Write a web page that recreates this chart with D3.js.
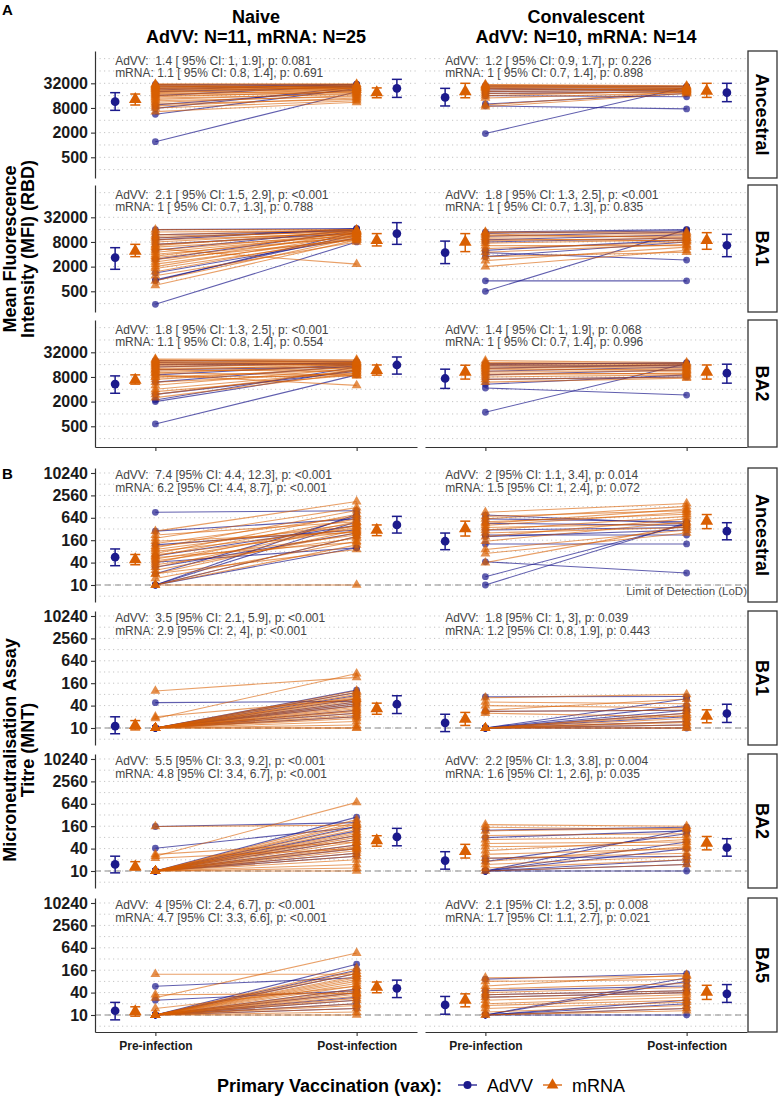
<!DOCTYPE html>
<html>
<head>
<meta charset="utf-8">
<script src="https://cdn.jsdelivr.net/npm/d3@7"></script>
<style>
  body { margin: 0; background: #fff; }
  svg { font-family: "Liberation Sans", Arial, sans-serif; }
</style>
</head>
<body>
<div id="chart"></div>
<script>
// ---- data ----
var cohorts = ["Naive", "Convalescent"];
var cohortN = ["AdVV: N=11, mRNA: N=25", "AdVV: N=10, mRNA: N=14"];
var mfiVariants = ["Ancestral", "BA1", "BA2"];
var mntVariants = ["Ancestral", "BA1", "BA2", "BA5"];
var timepoints = ["Pre-infection", "Post-infection"];
var vaxGroups = ["AdVV", "mRNA"];
var mfiTicks = [500, 2000, 8000, 32000];
var mntTicks = [10, 40, 160, 640, 2560, 10240];
var lodValue = 10;

// individual participants: [pre, post]
var mfiNaiveAncestralAdVV = [[1200,20000],[5600,24000],[7800,26000],[9500,22000],[16000,28000],[20000,26000],[22000,30000],[24000,28000],[26000,30000],[28000,27000],[30000,30000]];
var mfiNaiveAncestralMrna = [[6500,11000],[8000,12000],[9000,14000],[10000,13000],[11000,16000],[12000,15000],[13000,18000],[14000,17000],[15000,20000],[16000,19000],[17000,22000],[18000,20000],[19000,24000],[20000,22000],[21000,25000],[22000,24000],[23000,26000],[24000,25000],[25000,28000],[26000,27000],[27000,28000],[28000,22000],[29000,30000],[30000,24000],[31000,31000]];
var mfiNaiveBA1AdVV = [[240,8000],[900,14000],[950,12000],[1400,10000],[3000,15000],[5000,16000],[7000,13000],[9000,17000],[10000,16000],[12000,15000],[16000,17000]];
var mfiNaiveBA1Mrna = [[700,9000],[900,10000],[1200,8000],[1500,11000],[1800,9500],[2000,12000],[2300,10000],[2600,13000],[3000,9000],[3300,11000],[3600,14000],[4000,10500],[4500,12000],[5000,13000],[5500,2300],[6000,11000],[6500,15000],[7000,12500],[8000,14000],[9000,13000],[10000,15000],[11000,14000],[12000,16000],[14000,15000],[16000,16000]];
var mfiNaiveBA2AdVV = [[570,9000],[2000,12000],[2200,14000],[3000,11000],[6000,15000],[9000,16000],[12000,14000],[14000,18000],[16000,17000],[18000,16000],[20000,19000]];
var mfiNaiveBA2Mrna = [[2500,10000],[3000,12000],[3500,9000],[4000,11000],[5000,13000],[6000,10000],[7000,14000],[8000,12000],[9000,5000],[10000,15000],[11000,13000],[12000,16000],[13000,14000],[14000,17000],[15000,15000],[16000,18000],[17000,16000],[18000,19000],[19000,17000],[20000,20000],[21000,18000],[22000,21000],[12000,11000],[10000,9000],[8000,8500]];
var mfiConvAncestralAdVV = [[1900,26000],[9000,7600],[10000,18000],[16000,15000],[18000,20000],[20000,22000],[22000,24000],[24000,22000],[26000,26000],[28000,27000]];
var mfiConvAncestralMrna = [[8600,18000],[9500,20000],[14000,19000],[16000,21000],[18000,20000],[20000,22000],[22000,23000],[24000,22000],[25000,24000],[26000,25000],[27000,24000],[28000,26000],[29000,27000],[30000,28000]];
var mfiConvBA1AdVV = [[500,16000],[900,900],[3500,8000],[4400,2900],[5000,9000],[8000,10000],[9000,12000],[11000,14000],[13000,15000],[14000,16000]];
var mfiConvBA1Mrna = [[2000,5000],[2800,6000],[3500,4500],[4500,7000],[5500,8000],[6500,6500],[7500,9000],[8500,10000],[9500,8500],[10500,11000],[11500,12000],[12500,10000],[13500,13000],[14000,14000]];
var mfiConvBA2AdVV = [[1100,17000],[4300,2900],[5300,9000],[7000,8000],[9000,12000],[11000,14000],[13000,16000],[15000,15000],[16000,18000],[17000,17000]];
var mfiConvBA2Mrna = [[6000,7500],[7000,8000],[8000,9000],[9000,10000],[10000,9500],[11000,11000],[12000,12000],[13000,11500],[14000,13000],[15000,14000],[16000,15000],[17000,16000],[18000,17000],[20000,18000]];

var mntNaiveAncestralAdVV = [[900,990],[280,600],[120,300],[60,400],[41,100],[30,250],[20,700],[10,800],[10,500],[10,200],[10,100]];
var mntNaiveAncestralMrna = [[10,10],[10,120],[10,200],[15,150],[20,300],[20,90],[25,250],[30,400],[35,180],[40,500],[45,220],[50,350],[55,140],[60,600],[65,280],[70,800],[80,320],[90,450],[100,1000],[110,380],[130,700],[150,260],[180,1200],[220,500],[280,1750]];
var mntNaiveBA1AdVV = [[48,52],[10,104],[10,90],[10,75],[10,60],[10,50],[10,40],[10,30],[10,25],[10,20],[10,45]];
var mntNaiveBA1Mrna = [[99,230],[18,290],[20,60],[10,10],[10,12],[10,15],[10,18],[10,20],[10,22],[10,25],[10,28],[10,30],[10,33],[10,36],[10,40],[10,45],[10,50],[10,55],[10,60],[10,65],[10,70],[10,80],[10,90],[10,100],[10,10]];
var mntNaiveBA2AdVV = [[157,200],[41,150],[10,280],[10,160],[10,120],[10,90],[10,70],[10,50],[10,40],[10,30],[10,25]];
var mntNaiveBA2Mrna = [[157,170],[25,700],[28,60],[22,40],[10,10],[10,12],[10,15],[10,20],[10,25],[10,30],[10,35],[10,40],[10,45],[10,50],[10,60],[10,70],[10,80],[10,90],[10,100],[10,110],[10,130],[10,150],[10,180],[10,200],[10,240]];
var mntNaiveBA5AdVV = [[59,100],[25,45],[10,232],[10,160],[10,130],[10,50],[10,40],[10,30],[10,25],[10,20],[10,15]];
var mntNaiveBA5Mrna = [[125,125],[35,38],[29,462],[15,60],[10,10],[10,12],[10,15],[10,18],[10,20],[10,25],[10,28],[10,32],[10,36],[10,40],[10,45],[10,50],[10,60],[10,70],[10,80],[10,90],[10,100],[10,110],[10,130],[10,150],[10,180]];
var mntConvAncestralAdVV = [[760,450],[600,500],[454,400],[300,350],[220,220],[127,127],[42,21],[16.7,430],[10,470],[200,300]];
var mntConvAncestralMrna = [[40,400],[70,250],[90,300],[150,500],[200,600],[250,350],[300,700],[350,450],[400,900],[450,1100],[500,800],[600,1300],[700,1000],[900,1550]];
var mntConvBA1AdVV = [[69,70],[28,30],[10,61],[10,40],[10,30],[10,20],[10,15],[10,12],[10,10],[10,25]];
var mntConvBA1Mrna = [[65,80],[50,45],[40,35],[30,60],[28,30],[25,20],[10,10],[10,12],[10,15],[10,18],[10,22],[10,25],[10,14],[10,10]];
var mntConvBA2AdVV = [[125,150],[79,120],[22,25],[18,100],[10,130],[10,60],[10,40],[10,20],[10,10],[10,15]];
var mntConvBA2Mrna = [[176,160],[150,130],[120,140],[90,100],[70,80],[55,60],[45,50],[35,70],[28,40],[22,30],[18,45],[15,25],[12,20],[10,15]];
var mntConvBA5AdVV = [[92,130],[45,60],[35,45],[30,40],[10,100],[10,80],[10,25],[10,20],[10,10],[10,15]];
var mntConvBA5Mrna = [[100,110],[80,90],[60,120],[50,70],[40,55],[35,45],[30,40],[25,35],[20,30],[18,25],[15,22],[12,18],[10,15],[10,13]];

// geometric means with 95% CI, per variant: [AdVV pre, mRNA pre, mRNA post, AdVV post], each [gm, lo, hi]
var mfiNaiveSummary = [
  [[11400,7000,18900],[13000,9450,17500],[18900,14200,24700],[24100,14500,40000]],
  [[3320,1720,5800],[4800,3500,7000],[8770,6400,12800],[12800,7000,23700]],
  [[5350,3200,8500],[6700,5350,9000],[11700,8880,15700],[15700,9400,24600]]
];
var mfiConvSummary = [
  [[14500,8950,24100],[20000,14200,32000],[20800,14500,32000],[18900,11400,32000]],
  [[4400,2370,8400],[8000,4650,12800],[8800,5300,13500],[6640,3500,12300]],
  [[7350,4200,12400],[10600,7100,15500],[10600,7100,15700],[9900,5650,16400]]
];
var mntNaiveSummary = [
  [[56,33,93],[48,35,66],[299,212,411],[411,249,700]],
  [[11.2,7,20],[11.7,8.9,15.8],[33,23.4,46.5],[43.5,24.5,73.6]],
  [[15,8.9,25],[13,10.7,17.8],[66,46.5,88.6],[82.6,47.6,140]],
  [[13,7.4,21.8],[12.3,9.3,16.6],[56,39.6,77],[52,29.4,86.5]]
];
var mntConvSummary = [
  [[150,89,249],[327,207,520],[520,327,783],[279,164,472]],
  [[13.8,8,23.4],[17.3,11.7,26.2],[20.8,13.8,30.8],[24.5,14.1,43.5]],
  [[19,11.2,33],[33.7,22.3,52],[56,37,84.6],[42.5,25,73.6]],
  [[18.6,10.5,31.5],[25,16.6,37],[41.5,26.2,62.8],[37,21.8,65.7]]
];

var mfiNaiveStats = [
  ["AdVV:  1.4 [ 95% CI: 1, 1.9], p: 0.081", "mRNA: 1.1 [ 95% CI: 0.8, 1.4], p: 0.691"],
  ["AdVV:  2.1 [ 95% CI: 1.5, 2.9], p: <0.001", "mRNA: 1 [ 95% CI: 0.7, 1.3], p: 0.788"],
  ["AdVV:  1.8 [ 95% CI: 1.3, 2.5], p: <0.001", "mRNA: 1.1 [ 95% CI: 0.8, 1.4], p: 0.554"]
];
var mfiConvStats = [
  ["AdVV:  1.2 [ 95% CI: 0.9, 1.7], p: 0.226", "mRNA: 1 [ 95% CI: 0.7, 1.4], p: 0.898"],
  ["AdVV:  1.8 [ 95% CI: 1.3, 2.5], p: <0.001", "mRNA: 1 [ 95% CI: 0.7, 1.3], p: 0.835"],
  ["AdVV:  1.4 [ 95% CI: 1, 1.9], p: 0.068", "mRNA: 1 [ 95% CI: 0.7, 1.4], p: 0.996"]
];
var mntNaiveStats = [
  ["AdVV:  7.4 [95% CI: 4.4, 12.3], p: <0.001", "mRNA: 6.2 [95% CI: 4.4, 8.7], p: <0.001"],
  ["AdVV:  3.5 [95% CI: 2.1, 5.9], p: <0.001", "mRNA: 2.9 [95% CI: 2, 4], p: <0.001"],
  ["AdVV:  5.5 [95% CI: 3.3, 9.2], p: <0.001", "mRNA: 4.8 [95% CI: 3.4, 6.7], p: <0.001"],
  ["AdVV:  4 [95% CI: 2.4, 6.7], p: <0.001", "mRNA: 4.7 [95% CI: 3.3, 6.6], p: <0.001"]
];
var mntConvStats = [
  ["AdVV:  2 [95% CI: 1.1, 3.4], p: 0.014", "mRNA: 1.5 [95% CI: 1, 2.4], p: 0.072"],
  ["AdVV:  1.8 [95% CI: 1, 3], p: 0.039", "mRNA: 1.2 [95% CI: 0.8, 1.9], p: 0.443"],
  ["AdVV:  2.2 [95% CI: 1.3, 3.8], p: 0.004", "mRNA: 1.6 [95% CI: 1, 2.6], p: 0.035"],
  ["AdVV:  2.1 [95% CI: 1.2, 3.5], p: 0.008", "mRNA: 1.7 [95% CI: 1.1, 2.7], p: 0.021"]
];

// ---- tables built from the arrays above ----
var mfiPairs = [
  [[mfiNaiveAncestralAdVV, mfiNaiveAncestralMrna], [mfiNaiveBA1AdVV, mfiNaiveBA1Mrna], [mfiNaiveBA2AdVV, mfiNaiveBA2Mrna]],
  [[mfiConvAncestralAdVV, mfiConvAncestralMrna], [mfiConvBA1AdVV, mfiConvBA1Mrna], [mfiConvBA2AdVV, mfiConvBA2Mrna]]
];
var mntPairs = [
  [[mntNaiveAncestralAdVV, mntNaiveAncestralMrna], [mntNaiveBA1AdVV, mntNaiveBA1Mrna], [mntNaiveBA2AdVV, mntNaiveBA2Mrna], [mntNaiveBA5AdVV, mntNaiveBA5Mrna]],
  [[mntConvAncestralAdVV, mntConvAncestralMrna], [mntConvBA1AdVV, mntConvBA1Mrna], [mntConvBA2AdVV, mntConvBA2Mrna], [mntConvBA5AdVV, mntConvBA5Mrna]]
];
var mfiSummary = [mfiNaiveSummary, mfiConvSummary];
var mntSummary = [mntNaiveSummary, mntConvSummary];
var mfiStats = [mfiNaiveStats, mfiConvStats];
var mntStats = [mntNaiveStats, mntConvStats];

function init()
{
    var w = 778, h = 1096;
    var colX = [95, 425];
    var panelW = 322;
    var mfiTops = [51, 185, 320], mfiH = 127;
    var mntTops = [468, 611, 754, 898], mntH = 134;
    var colour = {AdVV: "#1c1a8c", mRNA: "#d95f02"};
    // summary positions: AdVV pre, mRNA pre, mRNA post, AdVV post
    var sumX = [0.8, 0.9, 2.1, 2.2];
    var sumVax = ["AdVV", "mRNA", "mRNA", "AdVV"];

    var x = d3.scaleLinear().domain([0.7, 2.3]).range([0, panelW]);
    var yMfi = d3.scaleLog().base(2).domain([156, 196800]).range([mfiH, 0]);
    var yMnt = d3.scaleLog().base(2).domain([3.49, 13950]).range([mntH, 0]);
    var mfiGrid = d3.range(0, 10).map(function(k) { return 250 * Math.pow(2, k); });
    var mntGrid = d3.range(0, 12).map(function(k) { return 5 * Math.pow(2, k); });

    var svg = d3.select("#chart")
                .append("svg")
                .attr("width", w)
                .attr("height", h);

    var symCircle = d3.symbol().type(d3.symbolCircle);
    var symTri = d3.symbol().type(d3.symbolTriangle);

    function drawPanel(g, y, grid, pairs, summary, stats, withLod, lodLabel)
    {
        g.selectAll(".grid")
            .data(grid)
            .enter()
            .append("line")
            .attr("x1", 0).attr("x2", panelW)
            .attr("y1", function(d) { return y(d); })
            .attr("y2", function(d) { return y(d); })
            .style("stroke", "#c4c4c4")
            .style("stroke-width", 1)
            .style("stroke-dasharray", "1.2,3.3");

        if (withLod) {
            g.append("line")
                .attr("x1", 0).attr("x2", panelW)
                .attr("y1", y(lodValue)).attr("y2", y(lodValue))
                .style("stroke", "#8a8a8a")
                .style("stroke-width", 1.2)
                .style("stroke-dasharray", "6,4");
            if (lodLabel) {
                g.append("text")
                    .attr("x", panelW)
                    .attr("y", y(lodValue) + 10)
                    .attr("text-anchor", "end")
                    .style("font-size", "11.5px")
                    .style("fill", "#4d4d4d")
                    .text("Limit of Detection (LoD)");
            }
        }

        vaxGroups.forEach(function(vax, vi) {
            g.selectAll(".pl" + vi)
                .data(pairs[vi])
                .enter()
                .append("line")
                .attr("x1", x(1)).attr("x2", x(2))
                .attr("y1", function(d) { return y(d[0]); })
                .attr("y2", function(d) { return y(d[1]); })
                .style("stroke", colour[vax])
                .style("stroke-opacity", vi === 0 ? 0.7 : 0.6)
                .style("stroke-width", 1.1);
        });
        vaxGroups.forEach(function(vax, vi) {
            var sym = vi === 0 ? symCircle.size(36) : symTri.size(42);
            [0, 1].forEach(function(t) {
                g.selectAll(".pt" + vi + t)
                    .data(pairs[vi])
                    .enter()
                    .append("path")
                    .attr("d", sym)
                    .attr("transform", function(d) {
                        return "translate(" + x(t + 1) + "," + y(d[t]) + ")";
                    })
                    .style("fill", colour[vax])
                    .style("fill-opacity", 0.7);
            });
        });

        // summary: geometric mean and 95% CI
        var sg = g.selectAll(".sum")
            .data(summary)
            .enter()
            .append("g")
            .attr("transform", function(d, i) { return "translate(" + x(sumX[i]) + ",0)"; });
        sg.append("line")
            .attr("y1", function(d) { return y(d[1]); })
            .attr("y2", function(d) { return y(d[2]); })
            .style("stroke", function(d, i) { return colour[sumVax[i]]; })
            .style("stroke-width", 1.5);
        [1, 2].forEach(function(k) {
            sg.append("line")
                .attr("x1", -5).attr("x2", 5)
                .attr("y1", function(d) { return y(d[k]); })
                .attr("y2", function(d) { return y(d[k]); })
                .style("stroke", function(d, i) { return colour[sumVax[i]]; })
                .style("stroke-width", 1.5);
        });
        sg.append("path")
            .attr("d", function(d, i) {
                return sumVax[i] === "AdVV" ? symCircle.size(60)() : symTri.size(70)();
            })
            .attr("transform", function(d) { return "translate(0," + y(d[0]) + ")"; })
            .style("fill", function(d, i) { return colour[sumVax[i]]; });

        // two stat lines, first one just under the top grid line
        var y0 = y(grid[grid.length - 1]) + 6.3;
        g.selectAll(".stat")
            .data(stats)
            .enter()
            .append("text")
            .attr("x", x(0.8))
            .attr("y", function(d, i) { return y0 + i * 12.4; })
            .style("font-size", "12px")
            .style("fill", "#454545")
            .style("white-space", "pre")
            .text(function(d) { return d; });
    }

    function drawStrip(top, ht, label)
    {
        svg.append("rect")
            .attr("x", 748).attr("y", top)
            .attr("width", 29).attr("height", ht)
            .style("fill", "#fff")
            .style("stroke", "#333")
            .style("stroke-width", 1.3);
        svg.append("text")
            .attr("transform", "translate(" + 762.5 + "," + (top + ht / 2) + ") rotate(90)")
            .attr("text-anchor", "middle")
            .attr("dy", "0.36em")
            .style("font-size", "18px")
            .style("font-weight", "bold")
            .text(label);
    }

    function styleAxis(a)
    {
        a.select(".domain").style("stroke", "#333").style("stroke-width", 1.2);
        a.selectAll(".tick line").style("stroke", "#333").style("stroke-width", 1.1);
        a.selectAll(".tick text")
            .style("font-family", "'Liberation Sans', Arial, sans-serif")
            .style("font-weight", "bold")
            .style("fill", "#1a1a1a");
    }

    // MFI block (A)
    cohorts.forEach(function(c, ci) {
        mfiVariants.forEach(function(v, ri) {
            var g = svg.append("g")
                .attr("transform", "translate(" + colX[ci] + "," + mfiTops[ri] + ")");
            drawPanel(g, yMfi, mfiGrid, mfiPairs[ci][ri], mfiSummary[ci][ri], mfiStats[ci][ri], false, false);
            if (ci === 0) {
                var ay = g.append("g")
                    .call(d3.axisLeft(yMfi).tickValues(mfiTicks).tickSize(4).tickSizeOuter(0).tickPadding(3)
                        .tickFormat(d3.format("d")));
                styleAxis(ay);
                ay.selectAll(".tick text").style("font-size", "16px");
            }
            if (ri === mfiVariants.length - 1) {
                var ax = g.append("g")
                    .attr("transform", "translate(0," + mfiH + ")")
                    .call(d3.axisBottom(x).tickValues([1, 2]).tickSize(4).tickSizeOuter(0).tickFormat(""));
                styleAxis(ax);
            }
            if (ci === 1) drawStrip(mfiTops[ri], mfiH, v);
        });
    });

    // MNT block (B)
    cohorts.forEach(function(c, ci) {
        mntVariants.forEach(function(v, ri) {
            var g = svg.append("g")
                .attr("transform", "translate(" + colX[ci] + "," + mntTops[ri] + ")");
            drawPanel(g, yMnt, mntGrid, mntPairs[ci][ri], mntSummary[ci][ri], mntStats[ci][ri], true, ci === 1 && ri === 0);
            if (ci === 0) {
                var ay = g.append("g")
                    .call(d3.axisLeft(yMnt).tickValues(mntTicks).tickSize(4).tickSizeOuter(0).tickPadding(3)
                        .tickFormat(d3.format("d")));
                styleAxis(ay);
                ay.selectAll(".tick text").style("font-size", "16px");
            }
            if (ri === mntVariants.length - 1) {
                var ax = g.append("g")
                    .attr("transform", "translate(0," + mntH + ")")
                    .call(d3.axisBottom(x).tickValues([1, 2]).tickSize(4).tickSizeOuter(0).tickPadding(5)
                        .tickFormat(function(d) { return timepoints[d - 1]; }));
                styleAxis(ax);
                ax.selectAll(".tick text").style("font-size", "12px");
            }
            if (ci === 1) drawStrip(mntTops[ri], mntH, v);
        });
    });

    // column headers
    cohorts.forEach(function(c, ci) {
        var cx = colX[ci] + panelW / 2;
        svg.append("text").attr("x", cx).attr("y", 22.5)
            .attr("text-anchor", "middle")
            .style("font-size", "18px").style("font-weight", "bold")
            .text(c);
        svg.append("text").attr("x", cx).attr("y", 42.5)
            .attr("text-anchor", "middle")
            .style("font-size", "18px").style("font-weight", "bold")
            .text(cohortN[ci]);
    });

    // panel tags
    svg.append("text").attr("x", 2).attr("y", 15)
        .style("font-size", "15px").style("font-weight", "bold").text("A");
    svg.append("text").attr("x", 2).attr("y", 479)
        .style("font-size", "15px").style("font-weight", "bold").text("B");

    // y titles
    function yTitle(lines, cy)
    {
        lines.forEach(function(t, i) {
            svg.append("text")
                .attr("transform", "translate(" + (16 + i * 18) + "," + cy + ") rotate(-90)")
                .attr("text-anchor", "middle")
                .style("font-size", "18px").style("font-weight", "bold")
                .text(t);
        });
    }
    yTitle(["Mean Fluorescence", "Intensity (MFI) (RBD)"], mfiTops[0] + (mfiTops[2] + mfiH - mfiTops[0]) / 2);
    yTitle(["Microneutralisation Assay", "Titre (MNT)"], mntTops[0] + (mntTops[3] + mntH - mntTops[0]) / 2);

    // legend
    var ly = 1085;
    svg.append("text").attr("x", 217).attr("y", ly + 6.5)
        .style("font-size", "18px").style("font-weight", "bold")
        .text("Primary Vaccination (vax):");
    var keyX = [458, 543];
    vaxGroups.forEach(function(vax, i) {
        svg.append("line")
            .attr("x1", keyX[i]).attr("x2", keyX[i] + 19)
            .attr("y1", ly).attr("y2", ly)
            .style("stroke", colour[vax]).style("stroke-width", 1.3);
        svg.append("path")
            .attr("d", i === 0 ? symCircle.size(50)() : symTri.size(60)())
            .attr("transform", "translate(" + (keyX[i] + 9.5) + "," + ly + ")")
            .style("fill", colour[vax]);
        svg.append("text")
            .attr("x", keyX[i] + 29).attr("y", ly + 6.5)
            .style("font-size", "18px")
            .text(vax);
    });
}
window.onload = init;
</script>
</body>
</html>
